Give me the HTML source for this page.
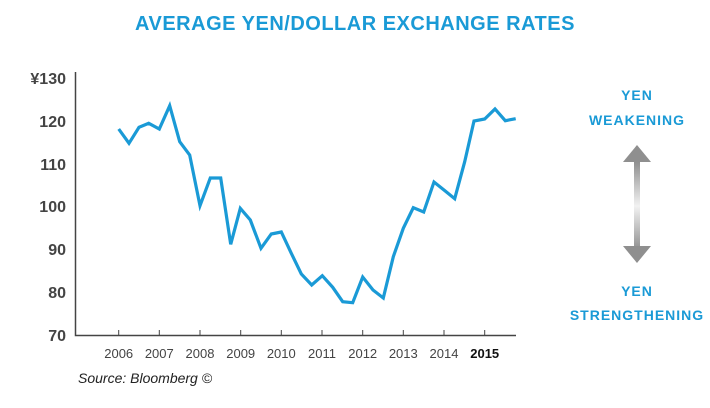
<!DOCTYPE html>
<html><head><style>
body{margin:0;background:#fff;width:710px;height:403px;overflow:hidden}
</style></head><body>
<svg width="710" height="403" xmlns="http://www.w3.org/2000/svg" font-family="Liberation Sans, sans-serif">
<defs>
<linearGradient id="g" x1="0" y1="0" x2="0" y2="1">
<stop offset="0" stop-color="#8a8a8a"/><stop offset="0.5" stop-color="#f2f2f2"/><stop offset="1" stop-color="#8a8a8a"/>
</linearGradient>
</defs>
<text x="355" y="30" text-anchor="middle" font-size="20" font-weight="bold" fill="#1a9ad6" letter-spacing="0.5">AVERAGE YEN/DOLLAR EXCHANGE RATES</text>
<g fill="#444" font-size="16" font-weight="bold" text-anchor="end">
<text x="66" y="84">¥130</text>
<text x="66" y="127">120</text>
<text x="66" y="170">110</text>
<text x="66" y="212">100</text>
<text x="66" y="255">90</text>
<text x="66" y="298">80</text>
<text x="66" y="341">70</text>
</g>
<path d="M75.5 72V335.5H516" fill="none" stroke="#444" stroke-width="1.5"/>
<g stroke="#444" stroke-width="1">
<line x1="118.7" y1="330" x2="118.7" y2="335"/><line x1="159.3" y1="330" x2="159.3" y2="335"/><line x1="200" y1="330" x2="200" y2="335"/><line x1="240.7" y1="330" x2="240.7" y2="335"/><line x1="281.3" y1="330" x2="281.3" y2="335"/><line x1="322" y1="330" x2="322" y2="335"/><line x1="362.7" y1="330" x2="362.7" y2="335"/><line x1="403.3" y1="330" x2="403.3" y2="335"/><line x1="444" y1="330" x2="444" y2="335"/><line x1="484.7" y1="330" x2="484.7" y2="335"/>
</g>
<g fill="#444" font-size="13" text-anchor="middle">
<text x="118.7" y="358">2006</text><text x="159.3" y="358">2007</text><text x="200" y="358">2008</text><text x="240.7" y="358">2009</text><text x="281.3" y="358">2010</text><text x="322" y="358">2011</text><text x="362.7" y="358">2012</text><text x="403.3" y="358">2013</text><text x="444" y="358">2014</text><text x="484.7" y="358" font-weight="bold" fill="#111">2015</text>
</g>
<polyline fill="none" stroke="#1a9ad6" stroke-width="3.2" stroke-linejoin="miter" points="118.7,129 129,143.3 139,127.3 148.7,123.3 159.3,129 169.7,105.7 179.7,141.7 189.7,155 200,205.7 210.3,178 220.7,178 230.7,244.3 240.3,208.3 250.3,220 261,248.3 271.3,234 281.3,232 291.3,253.3 301.3,274 311.7,285 322.3,275.7 332.7,287.3 342.7,301.7 352.7,302.7 362.7,277 373,290 383.3,298 393.3,256.7 403.3,228.3 413.3,207.7 423.7,212 434,182 444.3,190.3 454.7,198.7 464.7,161.7 474,121 484.7,119 495,109 505.3,120.7 515.7,118.7"/>
<text x="78" y="383" font-size="14" font-style="italic" fill="#222">Source: Bloomberg ©</text>
<g fill="#1a9ad6" font-size="14" font-weight="bold" text-anchor="middle" letter-spacing="1">
<text x="637" y="100">YEN</text>
<text x="637" y="125">WEAKENING</text>
<text x="637" y="296">YEN</text>
<text x="637" y="320">STRENGTHENING</text>
</g>
<rect x="634" y="160" width="6" height="92" fill="url(#g)"/>
<polygon points="637,145 623,162 651,162" fill="#8f8f8f"/>
<polygon points="637,263 623,246 651,246" fill="#8f8f8f"/>
</svg>
</body></html>
